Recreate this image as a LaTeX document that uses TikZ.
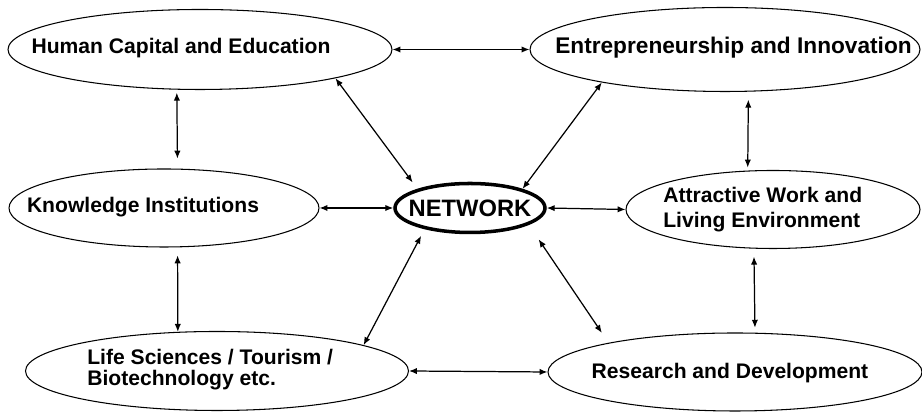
\documentclass[tikz,border=0pt]{standalone}
\usepackage{fontspec}
\setmainfont{Liberation Sans}
\usetikzlibrary{arrows.meta,shapes.geometric}

\tikzset{
  blob/.style={ellipse, draw, line width=0.6pt, inner sep=0pt},
  txt/.style={font=\bfseries\fontsize{12}{14}\selectfont, inner sep=0pt},
  link/.style={{Latex[length=4.5pt,width=3.6pt]}-{Latex[length=4.5pt,width=3.6pt]}, line width=0.7pt}
}

\begin{document}
\begin{tikzpicture}
        \useasboundingbox (0,0) rectangle (18.44,8.24);
        % the ellipses
        \node[blob, minimum width=7.68cm, minimum height=1.6cm] (hce) at (4.0,7.25) {};
        \node[blob, minimum width=7.8cm, minimum height=1.68cm] (ent) at (14.5,7.25) {};
        \node[blob, minimum width=6.2cm, minimum height=1.56cm] (kno) at (3.28,4.08) {};
        \node[blob, line width=2pt, minimum width=3.0cm, minimum height=0.98cm] (net) at (9.4,4.08) {};
        \node[blob, minimum width=5.88cm, minimum height=1.56cm] (att) at (15.46,4.05) {};
        \node[blob, minimum width=7.66cm, minimum height=1.58cm] (lif) at (4.34,0.82) {};
        \node[blob, minimum width=7.48cm, minimum height=1.56cm] (rnd) at (14.7,0.8) {};
        % the texts
        \node[txt] (hce-t) at (3.62,7.27) {Human Capital and Education};
        \node[txt, font=\bfseries\fontsize{12.9}{15}\selectfont] (ent-t) at (14.67,7.28) {Entrepreneurship and Innovation};
        \node[txt] (kno-t) at (2.86,4.1) {Knowledge Institutions};
        \node[txt, font=\bfseries\fontsize{13.5}{15}\selectfont] (net-t) at (net) {NETWORK};
        \node[txt, anchor=west, align=left, font=\bfseries\fontsize{12}{14.2}\selectfont] (att-t) at (13.26,4.05) {Attractive Work and\\Living Environment};
        \node[txt, anchor=west, align=left, font=\bfseries\fontsize{12}{12}\selectfont] (lif-t) at (1.74,0.85) {Life Sciences / Tourism /\\Biotechnology etc.};
        \node[txt] (rnd-t) at (14.6,0.78) {Research and Development};
        % the links
        \draw[link] (hce.east) -- (ent.west);
        \draw[link] (kno.east) -- (net.west);
        \draw[link] (net.east) -- (att.west);
        \draw[link] (lif.east) -- (rnd.west);
        \draw[link, shorten <=0.06cm, shorten >=0.2cm] (hce.-120) -- (kno.71.6);
        \draw[link, shorten <=0.16cm] (kno.-71.6) -- (lif.135.7);
        \draw[link, shorten <=0.16cm, shorten >=0.06cm] (ent.-61.1) -- (att.123.1);
        \draw[link, shorten <=0.16cm, shorten >=0.1cm] (att.-116.1) -- (rnd.63.9);
        \draw[link, shorten >=0.16cm] (hce.-12.8) -- (net.160);
        \draw[link] (ent.195) -- (net.20);
        \draw[link, shorten >=0.15cm] (lif.10.8) -- (net.205.9);
        \draw[link, shorten <=0.35cm, shorten >=0.24cm] (net.-16.2) -- (rnd.167.1);
    \end{tikzpicture}
\end{document}
